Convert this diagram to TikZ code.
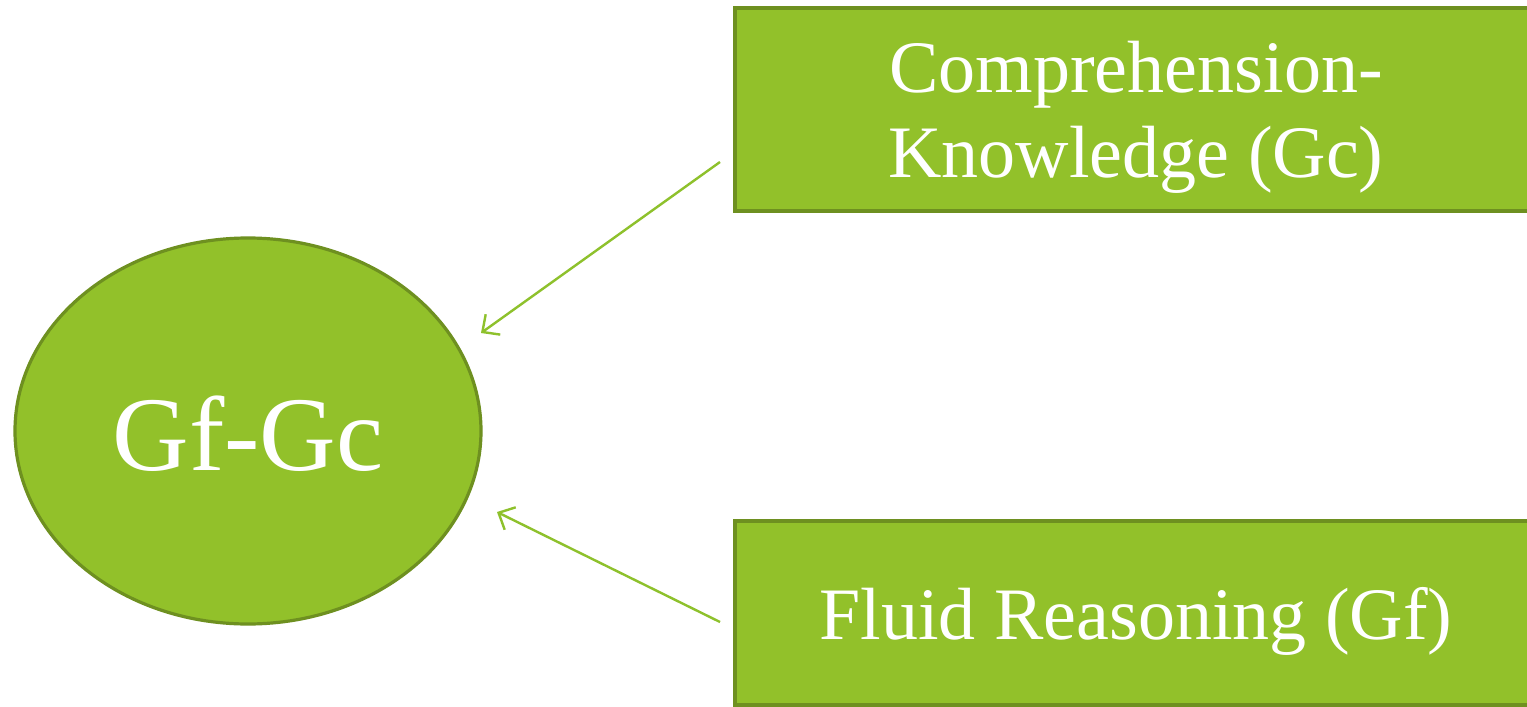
\documentclass[tikz,border=0pt]{standalone}
\usepackage{fontspec}
\setmainfont{Liberation Serif}
\usetikzlibrary{shapes.geometric,arrows.meta}
\definecolor{gfill}{HTML}{92C12A}
\definecolor{gborder}{HTML}{6E9020}
\definecolor{garrow}{HTML}{8EC12C}
\tikzset{
  boxnode/.style={draw=gborder, line width=3.5pt, fill=gfill, inner sep=0pt},
  boxtext/.style={text=white, inner sep=0pt, align=center, font=\fontsize{74}{85}\selectfont},
  ellnode/.style={ellipse, draw=gborder, line width=3.2pt, fill=gfill, inner sep=0pt},
  elltext/.style={text=white, inner sep=0pt, font=\fontsize{106}{120}\selectfont},
  conn/.style={draw=garrow, line width=2.4pt, -{Straight Barb[length=13pt,width=25pt]}}
}
\begin{document}
\begin{tikzpicture}[x=1pt,y=-1pt]
\useasboundingbox (0,0) rectangle (1527,707);
\fill[white] (0,0) rectangle (1527,707);
\clip (0,0) rectangle (1527,707);
\node[ellnode, minimum width=466pt, minimum height=386pt] (ell) at (248,431) {};
\node[elltext] (ellt) at (248,434) {Gf-Gc};
\node[boxnode, minimum width=802pt, minimum height=203pt] (gc) at (1136,109.5) {};
\node[boxtext] (gct) at (1136,117) {Comprehension-\\Knowledge (Gc)};
\node[boxnode, minimum width=802pt, minimum height=184pt] (gf) at (1136,613) {};
\node[boxtext] (gft) at (1136,621) {Fluid Reasoning (Gf)};
\coordinate (s1) at (720,162);
\coordinate (t1) at (481,333);
\coordinate (s2) at (720,622);
\coordinate (t2) at (497,512);
\draw[conn] (s1) -- (t1);
\draw[conn] (s2) -- (t2);
\end{tikzpicture}
\end{document}
